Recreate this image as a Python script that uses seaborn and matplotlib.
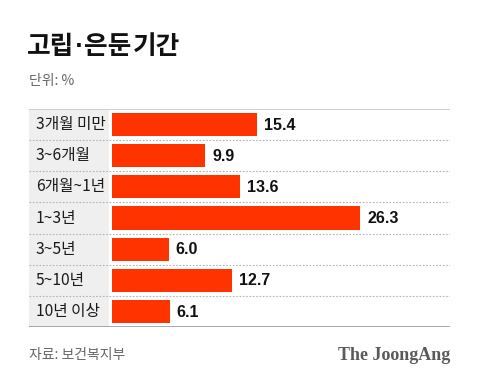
import matplotlib
matplotlib.use("Agg")
import matplotlib.pyplot as plt
import seaborn as sns
import pandas as pd
from matplotlib.patches import Rectangle

categories = ["3개월 미만", "3~6개월", "6개월~1년", "1~3년", "3~5년", "5~10년", "10년 이상"]
values = [15.4, 9.9, 13.6, 26.3, 6.0, 12.7, 6.1]
title_parts = ["고립", "·", "은둔", "기간"]
unit = "단위: %"
source = "자료: 보건복지부"
brand = "The JoongAng"

sns.set_theme(style="white")
plt.rcParams['font.family'] = ['Noto Sans CJK KR', 'DejaVu Sans']

W, H = 480, 383
fig = plt.figure(figsize=(W / 100, H / 100), dpi=100)
fig.patch.set_facecolor("white")

x0, x1 = 29, 450
y_top, y_bot = 109, 327
ax = fig.add_axes([x0 / W, 1 - y_bot / H, (x1 - x0) / W, (y_bot - y_top) / H])

scale = 9.43  # px per unit
bar_start = 112
xmin = -(bar_start - x0) / scale
xmax = (x1 - bar_start) / scale

df = pd.DataFrame({"cat": categories, "val": values})
sns.barplot(data=df, y="cat", x="val", orient="h", color="#ff3300",
            saturation=1, width=0.74, ax=ax, edgecolor="none")

ax.set_xlim(xmin, xmax)
ax.set_ylim(len(categories) - 0.5, -0.5)
ax.axis("off")

# label column background
gray_end = -(bar_start - 109) / scale
ax.add_patch(Rectangle((xmin, -0.5), gray_end - xmin, len(categories),
                       facecolor="#efefef", edgecolor="none", zorder=0))

for i in range(1, len(categories)):
    ax.axhline(i - 0.5, color="#b5b5b5", lw=0.8, ls=(0, (1.5, 1.5)), zorder=3)
ax.axhline(-0.5, color="#c8c8c8", lw=1.2, zorder=3)
ax.axhline(len(categories) - 0.5, color="#9a9a9a", lw=1.2, zorder=3)

for i, (c, v) in enumerate(zip(categories, values)):
    ax.text(xmin + 7 / scale, i, c, va="center", ha="left", fontsize=11.3,
            color="#1a1a1a")
    ax.text(v + 7 / scale, i + 0.02, f"{v:.1f}", va="center", ha="left",
            fontsize=11.5, fontweight="bold", color="#111111",
            family=["Liberation Sans", "DejaVu Sans"])

# title drawn in pieces for tight tracking
title_x = [27, 79, 84, 133]
title_ha = ["left", "center", "left", "left"]
title_fam = [None, ["DejaVu Sans"], None, None]
title_fs = [18.5, 15, 18.5, 18.5]
for px, part, ha, fam, fs in zip(title_x, title_parts, title_ha, title_fam, title_fs):
    kw = {"family": fam} if fam else {}
    fig.text(px / W, 1 - 46 / H, part, fontsize=fs, fontweight="heavy",
             color="#111111", va="center", ha=ha, **kw)
fig.text(x0 / W, 1 - 81 / H, unit, fontsize=10, color="#666666",
         va="center", ha="left")
fig.text(x0 / W, 1 - 355 / H, source, fontsize=10, color="#666666",
         va="center", ha="left")
fig.text(x1 / W, 1 - 356 / H, brand, fontsize=13, fontweight="bold",
         color="#5a5a5a", va="center", ha="right",
         family=["Liberation Serif", "DejaVu Serif"])

fig.savefig("out.png", dpi=100, facecolor="white")
